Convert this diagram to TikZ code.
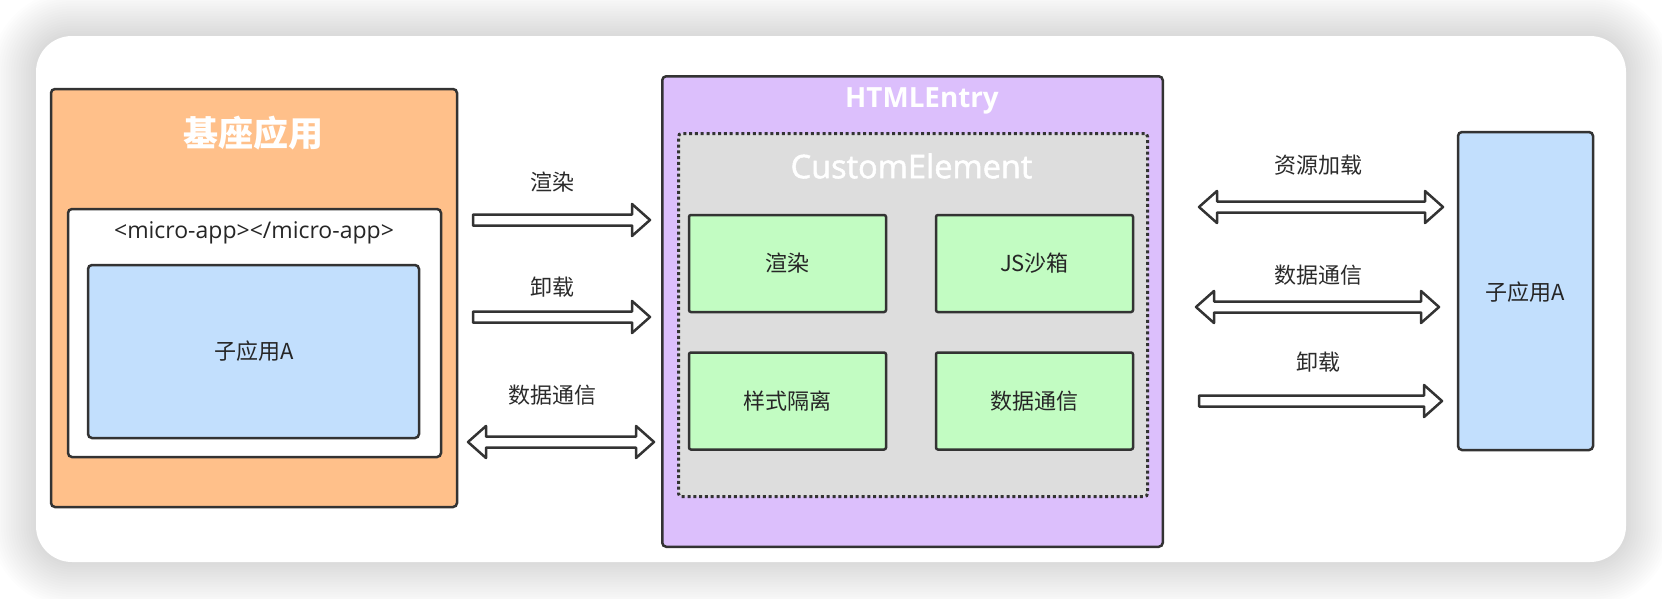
\documentclass[tikz,border=0pt]{standalone}
\usepackage{fontspec}
\setmainfont{Open Sans}
\newfontfamily\cjk{Noto Sans CJK SC}
\newfontfamily\semifont[FakeBold=1.6]{Open Sans}
\usetikzlibrary{calc}
\definecolor{edge}{HTML}{333333}
\definecolor{orangefill}{HTML}{FFC08A}
\definecolor{purplefill}{HTML}{DCBFFC}
\definecolor{grayfill}{HTML}{DDDDDD}
\definecolor{greenfill}{HTML}{C2FCC2}
\definecolor{bluefill}{HTML}{C2DFFD}
\definecolor{labelc}{HTML}{2B2B2B}
\newcommand\blkarrow[2]{%
  \draw[blockarrow] ($(#1)+(0,-5.5)$) -- ($(#2)+(-18,-5.5)$) -- ($(#2)+(-18,-16)$) -- (#2)
    -- ($(#2)+(-18,16)$) -- ($(#2)+(-18,5.5)$) -- ($(#1)+(0,5.5)$) -- cycle;}
\newcommand\blkdarrow[2]{%
  \draw[blockarrow] (#1) -- ($(#1)+(18,-16)$) -- ($(#1)+(18,-5.5)$) -- ($(#2)+(-18,-5.5)$)
    -- ($(#2)+(-18,-16)$) -- (#2) -- ($(#2)+(-18,16)$) -- ($(#2)+(-18,5.5)$)
    -- ($(#1)+(18,5.5)$) -- ($(#1)+(18,16)$) -- cycle;}
\tikzset{
  box/.style={draw=edge, line width=2.5pt, rounded corners=4pt, inner sep=0pt},
  greenbox/.style={box, rounded corners=2pt, fill=greenfill, minimum width=197, minimum height=97},
  blockarrow/.style={draw=edge, fill=white, line width=2.5pt, line join=round},
  lbl/.style={text=labelc, inner sep=0pt, font=\cjk\fontsize{22}{26}\selectfont},
  boxtext/.style={text=black!85, inner sep=0pt, font=\cjk\fontsize{22}{26}\selectfont},
}
\begin{document}
\begin{tikzpicture}[x=1pt,y=-1pt]
\useasboundingbox (0,0) rectangle (1662,598);
\fill[white] (0,0) rectangle (1662,598);
% card shadow
\foreach \i in {1,...,18}{
  \pgfmathsetmacro\d{\i*2.5}
  \pgfmathsetmacro\rr{36+\d}
  \fill[black, opacity=0.0085, rounded corners=\rr pt] (36-\d,36-\d) rectangle (1626+\d,562+\d);
}
\fill[white, rounded corners=36pt] (36,36) rectangle (1626,562);

% base application
\node[box, fill=orangefill, minimum width=406, minimum height=418] (base) at (254,298) {};
\node[inner sep=0pt, text=white, font=\cjk\bfseries\fontsize{35}{40}\selectfont] (baseT) at (253,133) {基座应用};
\node[box, fill=white, minimum width=373, minimum height=248] (tag) at (254.5,333) {};
\node[inner sep=0pt, text=black!85, font=\fontsize{23}{27}\selectfont] (tagT) at (254,233) {<micro-app></micro-app>};
\node[box, fill=bluefill, minimum width=331, minimum height=173] (subL) at (253.5,351.5) {};
\node[boxtext] (subLT) at (254,351) {子应用A};

% HTMLEntry
\node[box, fill=purplefill, minimum width=500.5, minimum height=470.5] (entry) at (912.5,311.5) {};
\node[inner sep=0pt, text=white, font=\bfseries\fontsize{27.8}{32}\selectfont] (entryT) at (922,101) {HTMLEntry};
\node[draw=edge, fill=grayfill, line width=3pt, dash pattern=on 3pt off 2.8pt, rounded corners=3pt, inner sep=0pt,
  minimum width=469, minimum height=363] (ce) at (913,315) {};
\node[inner sep=0pt, text=white, font=\semifont\fontsize{32.5}{37}\selectfont] (ceT) at (911.5,166) {CustomElement};
\node[greenbox] (g1) at (787.5,263.5) {};
\node[greenbox] (g2) at (1034.5,263.5) {};
\node[greenbox] (g3) at (787.5,401) {};
\node[greenbox] (g4) at (1034.5,401) {};
\node[boxtext] at (g1) {渲染};
\node[boxtext] at (g2) {JS沙箱};
\node[boxtext] at (g3) {样式隔离};
\node[boxtext] at (g4) {数据通信};

% sub application A
\node[box, fill=bluefill, minimum width=135, minimum height=318] (subR) at (1525.5,291) {};
\node[boxtext] (subRT) at (1525,292) {子应用A};

% arrow end points
\coordinate (a1s) at (473,220);  \coordinate (a1e) at (650,220);
\coordinate (a2s) at (473,317);  \coordinate (a2e) at (650,317);
\coordinate (a3s) at (468,442);  \coordinate (a3e) at (654,442);
\coordinate (b1s) at (1199,207); \coordinate (b1e) at (1443,207);
\coordinate (b2s) at (1196,307); \coordinate (b2e) at (1439,307);
\coordinate (b3s) at (1199,401); \coordinate (b3e) at (1442,401);

\blkarrow{a1s}{a1e}
\blkarrow{a2s}{a2e}
\blkdarrow{a3s}{a3e}
\blkdarrow{b1s}{b1e}
\blkdarrow{b2s}{b2e}
\blkarrow{b3s}{b3e}

\node[lbl] (la1) at (552,182) {渲染};
\node[lbl] (la2) at (552,287) {卸载};
\node[lbl] (la3) at (552,395) {数据通信};
\node[lbl] (lb1) at (1318,165) {资源加载};
\node[lbl] (lb2) at (1318,275) {数据通信};
\node[lbl] (lb3) at (1318,362) {卸载};
\end{tikzpicture}
\end{document}
